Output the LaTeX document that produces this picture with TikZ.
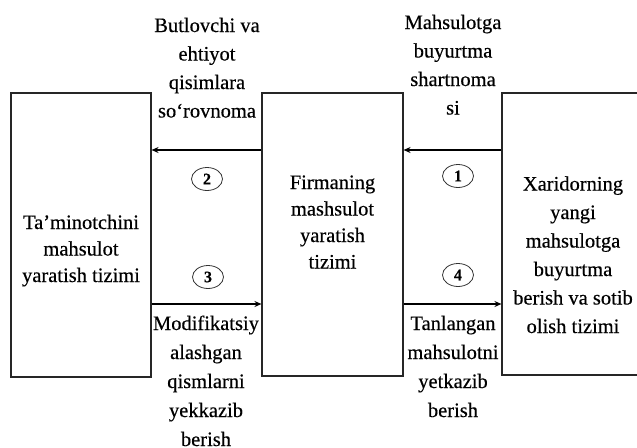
\documentclass[tikz,border=0pt]{standalone}
\usepackage{fontspec}
\setmainfont{Liberation Serif}[FakeBold=0.4]
\usetikzlibrary{arrows.meta,shapes.geometric}
\begin{document}
\begin{tikzpicture}[x=1pt,y=-1pt,
  boxst/.style={draw=black!85,line width=1.1pt,minimum width=#1,inner sep=0pt},
  txt/.style={align=center,anchor=base,inner sep=0pt,font=\fontsize{20.5}{28.5}\selectfont},
  txtm/.style={align=center,anchor=base,inner sep=0pt,font=\fontsize{20.5}{26.5}\selectfont},
  txtb/.style={align=center,anchor=base,inner sep=0pt,font=\fontsize{20.5}{29}\selectfont},
  arr/.style={line width=2.4pt,-{Stealth[length=7pt,width=6pt]}},
  num/.style={draw=black!80,line width=0.8pt,ellipse,minimum width=31pt,minimum height=23pt,inner sep=0pt,font=\fontsize{16}{16}\selectfont\bfseries}
]
\useasboundingbox (0,0) rectangle (637,447);
% boxes
\node[boxst=140pt,minimum height=284pt] (L) at (81,235) {};
\node[boxst=141pt,minimum height=283pt] (M) at (332.5,234.5) {};
\node[boxst=140pt,minimum height=282pt] (R) at (572,234) {};
% box texts (anchor base = last line)
\node[txtm] (Lt) at (81,282) {Ta’minotchini\\mahsulot\\yaratish tizimi};
\node[txtm] (Mt) at (332.5,268.5) {Firmaning\\mashsulot\\yaratish\\tizimi};
\node[txt] (Rt) at (573,333) {Xaridorning\\yangi\\mahsulotga\\buyurtma\\berish va sotib\\olish tizimi};
% top labels
\node[txt] (t2) at (207,117.5) {Butlovchi va\\ehtiyot\\qisimlara\\so‘rovnoma};
\node[txt] (t1) at (453,114.5) {Mahsulotga\\buyurtma\\shartnoma\\si};
% bottom labels
\node[txtb] (b3) at (206,446) {Modifikatsiy\\alashgan\\qismlarni\\yekkazib\\berish};
\node[txtb] (b4) at (453,417) {Tanlangan\\mahsulotni\\yetkazib\\berish};
% arrows
\coordinate (ya) at (0,150);
\coordinate (yb) at (0,304);
\draw[arr] (M.west |- ya) -- (L.east |- ya);
\draw[arr] (R.west |- ya) -- (M.east |- ya);
\draw[arr] (L.east |- yb) -- (M.west |- yb);
\draw[arr] (M.east |- yb) -- (R.west |- yb);
% numbers
\node[num] (n2) at (207,179) {2};
\node[num] (n1) at (458,176) {1};
\node[num] (n3) at (208,277) {3};
\node[num] (n4) at (458,275) {4};
\end{tikzpicture}
\end{document}
